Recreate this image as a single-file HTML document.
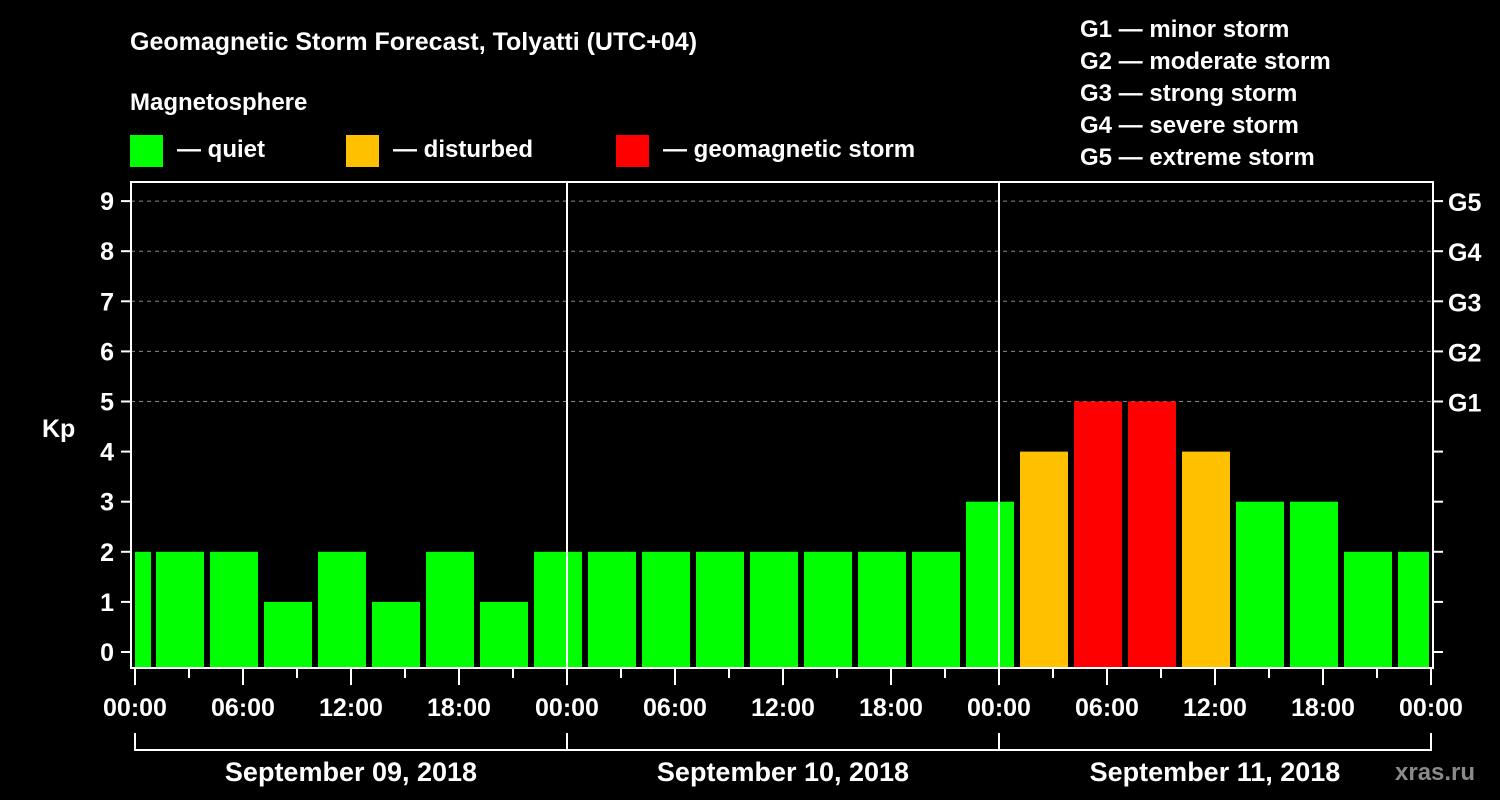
<!DOCTYPE html>
<html><head><meta charset="utf-8"><style>
html,body{margin:0;padding:0;background:#000;width:1500px;height:800px;overflow:hidden}
text{font-family:"Liberation Sans",Arial,sans-serif;font-weight:bold;fill:#fff}
</style></head><body>
<svg id="chart" width="1500" height="800" xmlns="http://www.w3.org/2000/svg">
<text x="130" y="50" font-size="25">Geomagnetic Storm Forecast, Tolyatti (UTC+04)</text>
<text x="130" y="110" font-size="24">Magnetosphere</text>
<g><rect x="130" y="135" width="33" height="32" fill="#00ff00"/><text x="177" y="157" font-size="24">— quiet</text></g>
<g><rect x="346" y="135" width="33" height="32" fill="#ffc000"/><text x="393" y="157" font-size="24">— disturbed</text></g>
<g><rect x="616" y="135" width="33" height="32" fill="#ff0000"/><text x="663" y="157" font-size="24">— geomagnetic storm</text></g>
<g font-size="24">
<text x="1080" y="37">G1 — minor storm</text>
<text x="1080" y="69">G2 — moderate storm</text>
<text x="1080" y="101">G3 — strong storm</text>
<text x="1080" y="133">G4 — severe storm</text>
<text x="1080" y="165">G5 — extreme storm</text>
</g>
<g id="plot"></g>
<text x="42" y="437" font-size="25">Kp</text>
<text x="1395" y="780" font-size="24" fill="#888" style="fill:#8a8a8a">xras.ru</text>
</svg>
<script>
const days = ["September 09, 2018","September 10, 2018","September 11, 2018"];
const kpValues = [2,2,2,1,2,1,2,1,2, 2,2,2,2,2,2,2,3, 4,5,5,4,3,3,2,2];
const yTicks = [0,1,2,3,4,5,6,7,8,9];
const gLabels = ["G1","G2","G3","G4","G5"];
const xTickLabels = ["00:00","06:00","12:00","18:00"];

const NS="http://www.w3.org/2000/svg";
const plot=document.getElementById('plot');
const L=131,R=1433,T=182,B=668,X0=135,DAYW=432;
const xH=h=>X0+h*DAYW/24;
const yV=v=>652-v*50.1;
function mk(tag,attrs,parent){const e=document.createElementNS(NS,tag);for(const k in attrs)e.setAttribute(k,attrs[k]);(parent||plot).appendChild(e);return e;}
function col(v){return v>=5?"#ff0000":(v>=4?"#ffc000":"#00ff00");}

// gridlines
for(let g=5;g<=9;g++){const l=mk('line',{x1:L,x2:R,y1:yV(g),y2:yV(g),stroke:'#888','stroke-dasharray':'4,4','stroke-width':1});

}
// bars: first interval 00:00-01:00 (partial), then 3h intervals from 01:00
kpValues.forEach((v,i)=>{
  let s,e;
  if(i===0){s=0;e=1;} else {s=1+(i-1)*3;e=s+3;}
  let x1=i===0?xH(s):xH(s)+3, x2=Math.min(xH(e)-3,xH(72)-2);
  if(i===0)x2=xH(e)-2;
  const r=mk('rect',{x:x1,y:yV(v),width:x2-x1,height:B-yV(v),fill:col(v)});
  
  
});
// day separators
[1,2].forEach(d=>{const l=mk('line',{x1:xH(24*d),x2:xH(24*d),y1:T,y2:B,stroke:'#fff','stroke-width':2});

});
// frame
const fr=mk('rect',{x:L,y:T,width:R-L,height:B-T,fill:'none',stroke:'#fff','stroke-width':2});


// y ticks
yTicks.forEach(v=>{
  mk('line',{x1:L-10,x2:L,y1:yV(v),y2:yV(v),stroke:'#fff','stroke-width':2});
  mk('line',{x1:R,x2:R+10,y1:yV(v),y2:yV(v),stroke:'#fff','stroke-width':2});
  const t=mk('text',{x:L-17,y:yV(v)+9,'font-size':25,'text-anchor':'end'});t.textContent=v;
  
  
});
gLabels.forEach((g,i)=>{const t=mk('text',{x:R+15,y:yV(5+i)+10,'font-size':25});t.textContent=g;

});
// x ticks
for(let h=0;h<=72;h+=3){const maj=h%6===0;mk('line',{x1:xH(h),x2:xH(h),y1:B,y2:B+(maj?17:10),stroke:'#fff','stroke-width':2});}
for(let h=0;h<=72;h+=6){const t=mk('text',{x:xH(h),y:716,'font-size':25,'text-anchor':'middle'});t.textContent=h===72?"00:00":xTickLabels[(h%24)/6];

}
// day brackets
days.forEach((d,i)=>{
  const a=xH(24*i),b=xH(24*(i+1));
  mk('path',{d:`M${a},733 V750 H${b} V733`,stroke:'#fff','stroke-width':2,fill:'none'});
  const t=mk('text',{x:(a+b)/2,y:781,'font-size':27,'text-anchor':'middle'});t.textContent=d;
  
  
});
</script>
</body></html>
